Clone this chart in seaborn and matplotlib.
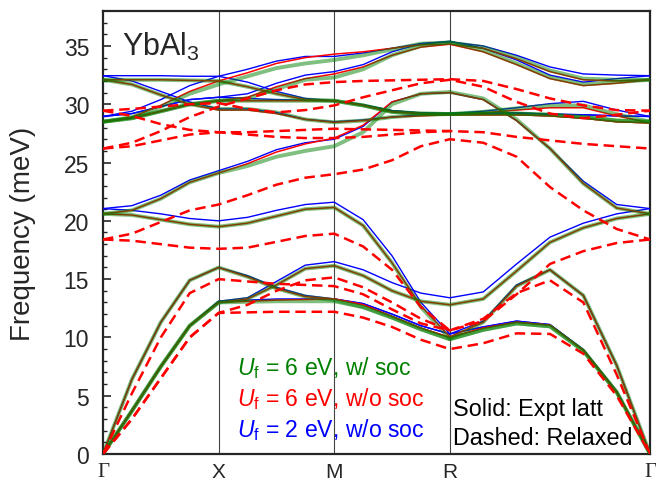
import numpy as np
import pandas as pd
import matplotlib
matplotlib.use("Agg")
import matplotlib.pyplot as plt
import seaborn as sns

# ---------------- data (frequencies in meV) ----------------
# k-path labels; each branch sampled at 5 pts on G-X, X-M, M-R and 7 pts on R-G (shared nodes)
path_labels = ["Γ", "X", "M", "R", "Γ"]

# Uf = 6 eV, with SOC (green, solid)
green_1 = [32.1, 32.1, 32.1, 32.05, 32.0, 31.5, 30.9, 30.4, 30.3, 29.9, 29.35, 29.2, 29.16, 29.2, 29.2, 29.1, 28.9, 28.6, 28.5]
green_2 = [32.1, 31.7, 30.8, 30.0, 29.6, 29.6, 29.3, 28.7, 28.45, 28.6, 28.9, 29.1, 29.16, 29.35, 29.65, 29.9, 29.9, 29.15, 28.5]
green_3 = [28.5, 28.9, 29.8, 30.9, 31.7, 32.4, 33.1, 33.5, 33.8, 34.2, 34.7, 35.2, 35.3, 34.9, 34.0, 32.9, 32.2, 32.1, 32.1]
green_4 = [28.5, 28.8, 29.4, 30.0, 30.3, 30.5, 31.3, 32.1, 32.3, 33.0, 34.2, 35.0, 35.3, 34.6, 33.5, 32.3, 31.7, 31.9, 32.1]
green_5 = [28.5, 28.8, 29.4, 30.0, 30.3, 30.3, 30.3, 30.3, 30.3, 29.9, 29.35, 29.2, 29.16, 29.2, 29.2, 29.1, 28.9, 28.6, 28.5]
green_6 = [20.6, 20.9, 21.9, 23.3, 24.1, 24.7, 25.5, 26.0, 26.4, 27.6, 30.0, 30.9, 31.05, 30.5, 28.7, 26.2, 23.2, 21.1, 20.6]
green_7 = [20.6, 20.5, 20.1, 19.7, 19.5, 19.8, 20.4, 21.0, 21.15, 19.6, 16.4, 12.6, 9.9, 11.3, 14.4, 15.8, 13.6, 7.6, 0.0]
green_8 = [0.0, 6.4, 11.3, 14.9, 16.0, 15.2, 14.2, 13.5, 13.2, 12.6, 11.7, 10.7, 9.85, 10.65, 11.2, 10.95, 8.85, 5.3, 0.0]
green_9 = [0.0, 3.7, 7.5, 11.0, 13.0, 13.3, 14.5, 15.9, 16.15, 15.3, 14.0, 13.1, 12.8, 13.3, 15.7, 18.15, 19.4, 20.2, 20.6]
green_10 = [0.0, 3.7, 7.5, 11.0, 13.0, 13.05, 13.1, 13.1, 13.1, 12.6, 11.7, 10.7, 9.85, 10.65, 11.2, 10.95, 8.85, 5.3, 0.0]

# Uf = 6 eV, without SOC (red, solid)
red_1 = [32.1, 32.1, 32.1, 32.05, 32.0, 31.5, 30.9, 30.4, 30.3, 29.9, 29.35, 29.2, 29.1, 29.1, 29.1, 29.0, 28.8, 28.5, 28.4]
red_2 = [32.1, 31.7, 30.8, 30.0, 29.5, 29.5, 29.2, 28.7, 28.45, 28.6, 28.9, 29.0, 29.1, 29.25, 29.5, 29.7, 29.7, 29.0, 28.4]
red_3 = [28.5, 28.9, 29.9, 31.1, 32.0, 32.7, 33.5, 34.0, 34.3, 34.5, 34.8, 35.1, 35.15, 34.8, 33.9, 32.8, 32.1, 32.0, 32.1]
red_4 = [28.5, 28.8, 29.4, 30.0, 30.3, 30.6, 31.5, 32.2, 32.6, 33.2, 34.2, 34.9, 35.15, 34.5, 33.4, 32.2, 31.6, 31.8, 32.1]
red_5 = [28.5, 28.8, 29.4, 30.0, 30.3, 30.3, 30.3, 30.3, 30.3, 29.9, 29.35, 29.2, 29.1, 29.1, 29.1, 29.0, 28.8, 28.5, 28.4]
red_6 = [20.6, 20.9, 21.9, 23.3, 24.1, 24.9, 25.9, 26.6, 27.1, 28.2, 30.2, 30.9, 31.0, 30.4, 28.6, 26.2, 23.2, 21.1, 20.6]
red_7 = [20.6, 20.5, 20.1, 19.7, 19.5, 19.8, 20.4, 21.0, 21.15, 19.6, 16.4, 12.7, 10.05, 11.3, 14.4, 15.8, 13.6, 7.6, 0.0]
red_8 = [0.0, 6.4, 11.3, 14.9, 16.0, 15.2, 14.2, 13.5, 13.3, 12.8, 11.8, 10.8, 10.0, 10.8, 11.3, 11.05, 8.9, 5.3, 0.0]
red_9 = [0.0, 3.7, 7.5, 11.0, 13.0, 13.3, 14.5, 15.9, 16.15, 15.3, 14.0, 13.1, 12.8, 13.3, 15.7, 18.15, 19.4, 20.2, 20.6]
red_10 = [0.0, 3.7, 7.5, 11.0, 13.0, 13.1, 13.2, 13.25, 13.3, 12.8, 11.8, 10.8, 10.0, 10.8, 11.3, 11.05, 8.9, 5.3, 0.0]

# Uf = 2 eV, without SOC (blue, solid)
blue_1 = [32.45, 32.45, 32.45, 32.4, 32.4, 31.9, 31.1, 30.5, 30.3, 29.95, 29.45, 29.25, 29.2, 29.25, 29.25, 29.15, 29.1, 29.0, 28.95]
blue_2 = [32.45, 32.0, 31.1, 30.2, 29.6, 29.6, 29.3, 28.7, 28.5, 28.65, 28.9, 29.1, 29.2, 29.4, 29.7, 30.05, 30.25, 29.5, 28.95]
blue_3 = [28.95, 29.4, 30.4, 31.6, 32.4, 33.0, 33.7, 34.1, 34.1, 34.4, 34.8, 35.2, 35.35, 35.0, 34.2, 33.2, 32.6, 32.5, 32.45]
blue_4 = [28.95, 29.2, 29.8, 30.4, 30.6, 30.9, 31.8, 32.5, 32.8, 33.4, 34.5, 35.2, 35.4, 34.8, 33.8, 32.5, 31.9, 32.2, 32.45]
blue_5 = [28.95, 29.2, 29.8, 30.4, 30.6, 30.5, 30.4, 30.35, 30.3, 29.95, 29.45, 29.25, 29.2, 29.25, 29.25, 29.15, 29.1, 29.0, 28.95]
blue_6 = [21.05, 21.3, 22.2, 23.5, 24.3, 25.1, 26.1, 26.7, 27.0, 28.1, 30.2, 30.9, 31.0, 30.4, 28.6, 26.2, 23.4, 21.4, 21.05]
blue_7 = [21.05, 20.9, 20.6, 20.2, 20.0, 20.3, 20.9, 21.4, 21.6, 20.1, 17.0, 13.0, 10.3, 11.4, 14.5, 15.8, 13.6, 7.6, 0.0]
blue_8 = [0.0, 6.4, 11.3, 14.9, 16.0, 15.3, 14.3, 13.6, 13.3, 12.9, 12.0, 11.0, 10.3, 10.9, 11.4, 11.1, 8.95, 5.35, 0.0]
blue_9 = [0.0, 3.7, 7.5, 11.0, 13.1, 13.4, 14.8, 16.2, 16.5, 15.8, 14.7, 13.8, 13.4, 13.9, 16.3, 18.6, 19.8, 20.6, 21.05]
blue_10 = [0.0, 3.7, 7.5, 11.0, 13.1, 13.2, 13.3, 13.3, 13.3, 12.9, 12.0, 11.0, 10.3, 10.9, 11.4, 11.1, 8.95, 5.35, 0.0]

# Uf = 6 eV, without SOC, relaxed lattice (red, dashed); shorter lists end at R (degenerate beyond)
dash_1 = [29.45, 29.6, 29.8, 30.0, 30.1, 29.6, 29.3, 29.5, 29.9, 30.6, 31.2, 31.8, 32.1, 31.5, 30.2, 29.2, 28.8, 29.1, 29.45]
dash_2 = [29.45, 29.0, 28.3, 27.8, 27.6, 27.6, 27.7, 27.8, 27.9, 27.85, 27.8, 27.75, 27.7, 27.6, 27.2, 26.9, 26.6, 26.4, 26.2]
dash_3 = [26.2, 26.7, 27.7, 28.9, 29.8, 30.5, 31.2, 31.7, 31.9, 32.0, 32.05, 32.1, 32.15, 32.0, 31.3, 30.5, 29.9, 29.5, 29.45]
dash_4 = [26.2, 26.4, 26.9, 27.4, 27.6, 27.4, 27.2, 27.1, 27.1, 27.2, 27.4, 27.6, 27.7]
dash_5 = [18.4, 18.9, 19.9, 20.9, 21.4, 22.2, 23.1, 23.7, 24.0, 24.4, 25.2, 26.4, 27.0, 26.7, 25.5, 22.9, 20.9, 19.3, 18.4]
dash_6 = [18.4, 18.3, 18.0, 17.7, 17.6, 17.7, 18.2, 18.7, 18.9, 17.8, 15.8, 12.6, 10.6, 11.4, 13.7, 16.3, 17.4, 18.1, 18.4]
dash_7 = [0.0, 5.2, 10.0, 13.8, 15.0, 14.8, 14.6, 14.5, 14.4, 13.7, 12.4, 11.2, 10.6, 11.6, 13.8, 14.9, 13.0, 6.8, 0.0]
dash_8 = [0.0, 3.0, 6.5, 10.0, 12.1, 12.15, 12.2, 12.2, 12.2, 11.7, 10.9, 9.8, 9.0, 9.5, 10.35, 10.3, 8.6, 5.0, 0.0]
dash_9 = [0.0, 3.0, 6.5, 10.0, 12.1, 12.8, 14.0, 14.9, 15.15, 14.3, 13.0, 11.6, 10.6]

legend_texts = [r"$U_\mathrm{f}$ = 6 eV, w/ soc", r"$U_\mathrm{f}$ = 6 eV, w/o soc", r"$U_\mathrm{f}$ = 2 eV, w/o soc"]
note_texts = ["Solid: Expt latt", "Dashed: Relaxed"]

# ---------------- k-path geometry ----------------
nodes = np.array([0.0, 1.0, 2.0, 3.0, 3.0 + np.sqrt(3.0)])
k = np.concatenate([
    np.linspace(nodes[0], nodes[1], 5),
    np.linspace(nodes[1], nodes[2], 5)[1:],
    np.linspace(nodes[2], nodes[3], 5)[1:],
    np.linspace(nodes[3], nodes[4], 7)[1:],
])

series = {
    "dash": [dash_1, dash_2, dash_3, dash_4, dash_5, dash_6, dash_7, dash_8, dash_9],
    "blue": [blue_1, blue_2, blue_3, blue_4, blue_5, blue_6, blue_7, blue_8, blue_9, blue_10],
    "red": [red_1, red_2, red_3, red_4, red_5, red_6, red_7, red_8, red_9, red_10],
    "green": [green_1, green_2, green_3, green_4, green_5, green_6, green_7, green_8, green_9, green_10],
}
rows = []
for name, bands in series.items():
    for bi, band in enumerate(bands):
        for kk, f in zip(k[:len(band)], band):
            rows.append((name, bi, kk, f))
df = pd.DataFrame(rows, columns=["series", "branch", "k", "freq"])

# ---------------- plot ----------------
sns.set_style("ticks")
plt.rcParams["font.family"] = ["Liberation Sans", "DejaVu Sans"]
plt.rcParams["mathtext.fontset"] = "custom"
plt.rcParams["mathtext.rm"] = "Liberation Sans"
plt.rcParams["mathtext.it"] = "Liberation Sans:italic"

fig = plt.figure(figsize=(6.56, 4.89), dpi=100)
ax = fig.add_axes([0.157, 0.0695, 0.834, 0.906])

for xv in nodes[1:4]:
    ax.axvline(xv, color="#444444", lw=0.8, zorder=1)

styles = {
    "blue": dict(color="#0000ff", lw=1.0, zorder=3),
    "red": dict(color="#ff0000", lw=1.1, zorder=4),
    "green": dict(color="#008000", lw=2.8, alpha=0.5, zorder=5),
    "dash": dict(color="#ff0000", lw=1.8, zorder=6),
}
for name in ["blue", "red", "green", "dash"]:
    sub = df[df.series == name]
    st = styles[name]
    n_before = len(ax.lines)
    sns.lineplot(data=sub, x="k", y="freq", units="branch", estimator=None,
                 sort=False, ax=ax, legend=False, **st)
    if name == "dash":
        for ln in ax.lines[n_before:]:
            ln.set_dashes((4.2, 2.3))

ax.set_xlim(nodes[0], nodes[-1])
ax.set_ylim(0, 38)
ax.set_xticks(nodes)
ax.set_xticklabels(path_labels)
for lab in ax.get_xticklabels():
    if lab.get_text() == "Γ":
        lab.set_family(["Liberation Serif", "DejaVu Serif"])
ax.tick_params(axis="x", length=0, labelsize=15, pad=6)
ax.set_yticks(np.arange(0, 36, 5))
ax.set_yticks(np.arange(0, 38, 1), minor=True)
ax.tick_params(axis="y", which="major", direction="in", length=6, width=1.2, labelsize=16.5, pad=10)
ax.tick_params(axis="y", which="minor", direction="in", length=3, width=1.0)
ax.set_xlabel("")
ax.set_ylabel("Frequency (meV)", fontsize=20, labelpad=20)
for sp in ax.spines.values():
    sp.set_linewidth(1.6)
    sp.set_visible(True)

ax.text(0.035, 0.958, r"YbAl$_3$", transform=ax.transAxes, fontsize=22, va="top", ha="left")

leg_colors = ["#008000", "#ff0000", "#0000ff"]
for i, (t, c) in enumerate(zip(legend_texts, leg_colors)):
    ax.text(0.245, 0.197 - i * 0.07, t, transform=ax.transAxes, fontsize=16.6, color=c, va="center", ha="left")
for i, t in enumerate(note_texts):
    ax.text(0.640, 0.103 - i * 0.066, t, transform=ax.transAxes, fontsize=16.8, color="black", va="center", ha="left")

fig.savefig("out.png", dpi=100)
